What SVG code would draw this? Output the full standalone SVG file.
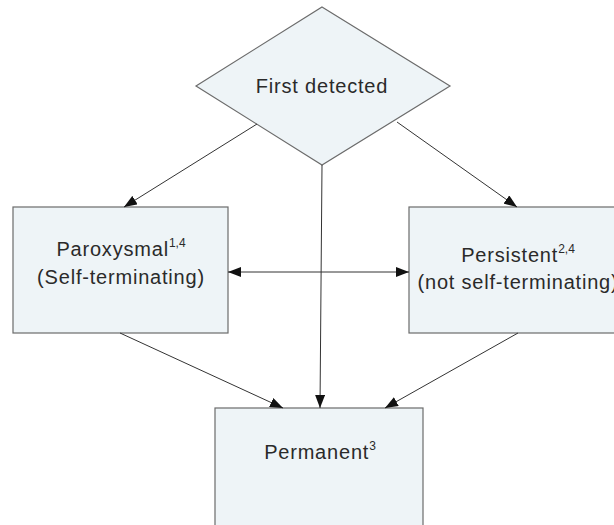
<svg xmlns="http://www.w3.org/2000/svg" width="614" height="525" viewBox="0 0 614 525">
  <style>
    .shape { fill: #eef4f7; stroke: #6b6b6b; stroke-width: 1.2; }
    .label { font-family: "Liberation Sans", Arial, sans-serif; font-size: 20px; fill: #2a2a2a; text-anchor: middle; letter-spacing: 0.8px; }
    .sup { font-size: 12px; letter-spacing: 0; }
    .link { stroke: #333; stroke-width: 1; fill: none; marker-end: url(#head); }
    .both { marker-start: url(#head); }
  </style>
  <defs>
    <marker id="head" markerUnits="userSpaceOnUse" markerWidth="14" markerHeight="10" refX="13" refY="5" orient="auto-start-reverse">
      <path d="M0,0 L13,5 L0,10 Z" fill="#111"/>
    </marker>
  </defs>
  <rect width="614" height="525" fill="#ffffff"/>

  <g id="first-detected">
    <polygon class="shape" points="322,7 450,86 322,165 196,86"/>
    <text class="label" x="322" y="93">First detected</text>
  </g>

  <g id="paroxysmal">
    <rect class="shape" x="13" y="207" width="215" height="126"/>
    <text class="label" x="121" y="256">Paroxysmal<tspan class="sup" dy="-9">1,4</tspan></text>
    <text class="label" x="121" y="284">(Self-terminating)</text>
  </g>

  <g id="persistent">
    <rect class="shape" x="409" y="207" width="216" height="126"/>
    <text class="label" x="518" y="262">Persistent<tspan class="sup" dy="-9">2,4</tspan></text>
    <text class="label" x="518" y="289">(not self-terminating)</text>
  </g>

  <g id="permanent">
    <rect class="shape" x="215" y="408" width="208" height="130"/>
    <text class="label" x="320" y="459">Permanent<tspan class="sup" dy="-9">3</tspan></text>
  </g>

  <g id="connectors">
    <line class="link" x1="257" y1="124" x2="124" y2="207"/>
    <line class="link" x1="397" y1="122" x2="517" y2="207"/>
    <line class="link" x1="322" y1="165" x2="320" y2="408"/>
    <line class="link both" x1="228" y1="272" x2="409" y2="272"/>
    <line class="link" x1="120" y1="333" x2="283" y2="408"/>
    <line class="link" x1="518" y1="333" x2="385" y2="408"/>
  </g>
</svg>
